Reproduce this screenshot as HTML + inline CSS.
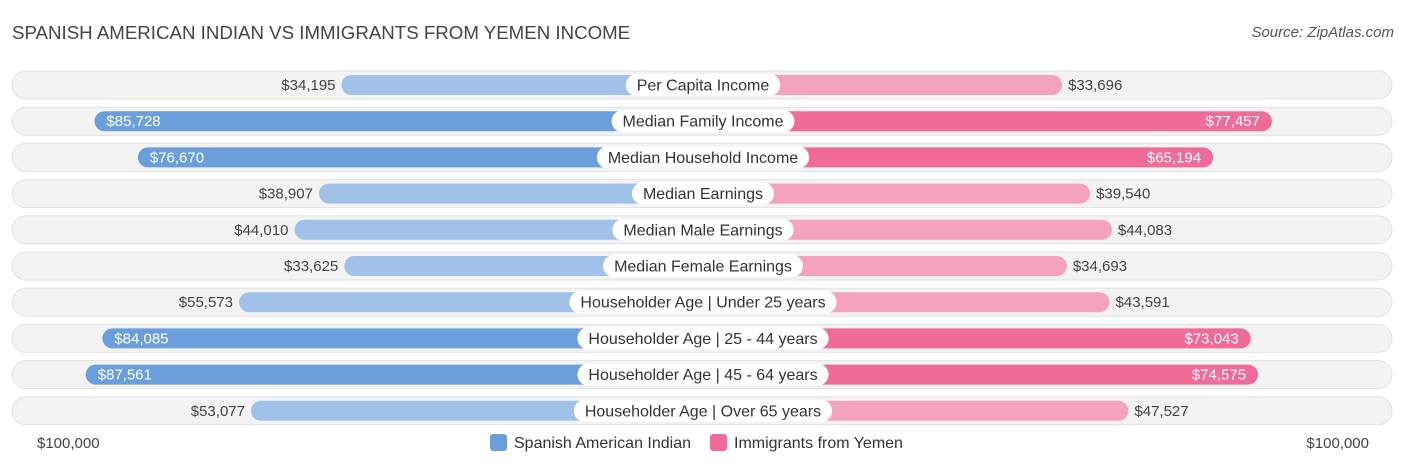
<!DOCTYPE html>
<html><head><meta charset="utf-8"><style>
body{margin:0;width:1406px;height:467px;background:#fff;font-family:"Liberation Sans",Arial,sans-serif;position:relative;overflow:hidden}
.t{position:absolute;left:12px;top:22px;font-size:18.7px;color:#444}
.s{position:absolute;right:12px;top:24px;font-size:15px;color:#555;font-style:italic}
</style></head><body>
<div class="t">SPANISH AMERICAN INDIAN VS IMMIGRANTS FROM YEMEN INCOME</div>
<div class="s">Source: ZipAtlas.com</div>
<svg id="c" width="1406" height="467" style="position:absolute;left:0;top:0"></svg>
<script>
const categories=["Per Capita Income","Median Family Income","Median Household Income","Median Earnings","Median Male Earnings","Median Female Earnings","Householder Age | Under 25 years","Householder Age | 25 - 44 years","Householder Age | 45 - 64 years","Householder Age | Over 65 years"];
const spanish=[34195,85728,76670,38907,44010,33625,55573,84085,87561,53077];
const yemen=[33696,77457,65194,39540,44083,34693,43591,73043,74575,47527];
const svg=document.getElementById('c');const NS='http://www.w3.org/2000/svg';
const cx=703,off=197.5,k=4.795/1000;
function mk(t,a,p){const e=document.createElementNS(NS,t);for(const q in a)e.setAttribute(q,a[q]);(p||svg).appendChild(e);return e;}
const fmt=v=>'$'+v.toLocaleString('en-US');
categories.forEach((c,i)=>{
 const y=85+i*36.2;
 const g=mk('g',{});
 
 
 const bg=mk('rect',{x:12,y:y-14,width:1380,height:28,rx:14,fill:'#f3f3f3',stroke:'#e2e2e2'},g);
 
 
 const sv=spanish[i],yv=yemen[i];
 const lx=cx-off-k*sv, rx=cx+off+k*yv;
 const sStrong=sv>70000,yStrong=yv>60000;
 const b1=mk('rect',{x:lx,y:y-10,width:cx-lx,height:20,rx:10,fill:sStrong?'#6a9fdc':'#a0c2e9'},g);
 
 
 const b2=mk('rect',{x:cx,y:y-10,width:rx-cx,height:20,rx:10,fill:yStrong?'#f06b97':'#f5a2bf'},g);
 
 
 const t1=mk('text',{x:sStrong?lx+12:lx-6,y:y+5,'font-size':15,fill:sStrong?'#fff':'#444','text-anchor':sStrong?'start':'end'},g);t1.textContent=fmt(sv);
 
 
 const t2=mk('text',{x:yStrong?rx-12:rx+6,y:y+5,'font-size':15,fill:yStrong?'#fff':'#444','text-anchor':yStrong?'end':'start'},g);t2.textContent=fmt(yv);
 
 
 const lt=mk('text',{x:cx,y:y+5.5,'font-size':16,fill:'#333','text-anchor':'middle'},g);lt.textContent=c;
 const w=lt.getComputedTextLength()+22;
 const lb=mk('rect',{x:cx-w/2,y:y-11,width:w,height:22,rx:11,fill:'#fff'},g);
 g.insertBefore(lb,lt);
 
 
 
 
});
const a1=mk('text',{x:37,y:448,'font-size':15,fill:'#444'});a1.textContent='$100,000';


const a2=mk('text',{x:1369,y:448,'font-size':15,fill:'#444','text-anchor':'end'});a2.textContent='$100,000';


const l1=mk('rect',{x:490,y:434,width:17,height:17,rx:3,fill:'#6a9fdc'});


const lt1=mk('text',{x:514,y:448,'font-size':16,fill:'#333'});lt1.textContent='Spanish American Indian';


const l2=mk('rect',{x:710,y:434,width:17,height:17,rx:3,fill:'#f06b97'});


const lt2=mk('text',{x:734,y:448,'font-size':16,fill:'#333'});lt2.textContent='Immigrants from Yemen';


</script>
</body></html>
